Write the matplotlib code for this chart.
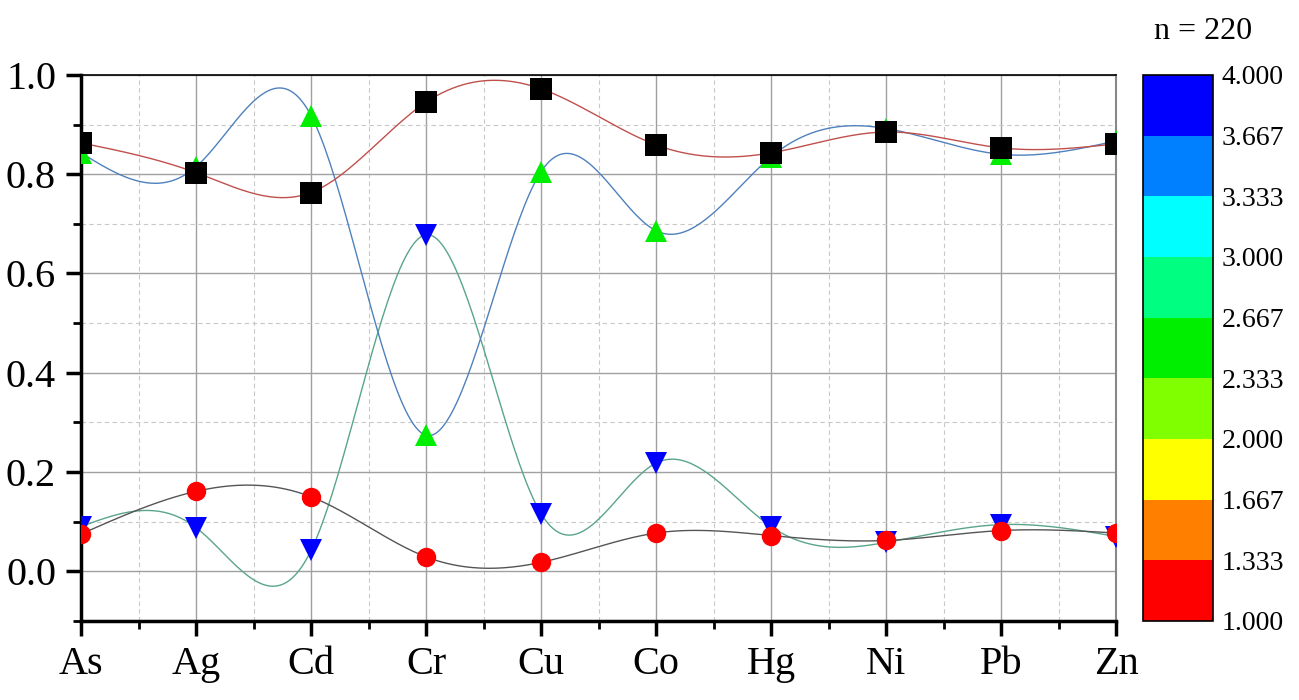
import numpy as np
import matplotlib
matplotlib.use("Agg")
import matplotlib.pyplot as plt
from matplotlib.colors import ListedColormap, BoundaryNorm
from matplotlib.ticker import MultipleLocator, FixedLocator
import matplotlib.colorbar as mcolorbar

plt.rcParams["font.family"] = ["Liberation Serif", "DejaVu Serif"]

elements = ["As", "Ag", "Cd", "Cr", "Cu", "Co", "Hg", "Ni", "Pb", "Zn"]

squares = [0.863, 0.803, 0.763, 0.945, 0.972, 0.859, 0.843, 0.885, 0.853, 0.861]
tri_up = [0.843, 0.815, 0.918, 0.274, 0.805, 0.686, 0.835, 0.892, 0.840, 0.867]
tri_down = [0.090, 0.088, 0.042, 0.678, 0.116, 0.218, 0.090, 0.058, 0.094, 0.070]
circles = [0.075, 0.161, 0.150, 0.029, 0.018, 0.077, 0.072, 0.062, 0.082, 0.077]

cbar_levels = [1.000, 1.333, 1.667, 2.000, 2.333, 2.667, 3.000, 3.333, 3.667, 4.000]
cbar_colors = ["#ff0000", "#ff8000", "#ffff00", "#80ff00", "#00ee00",
               "#00ff80", "#00ffff", "#0080ff", "#0000ff"]
cbar_title = "n = 220"


def natural_spline(x, y, n=400):
    x = np.asarray(x, float)
    y = np.asarray(y, float)
    m = len(x)
    h = np.diff(x)
    A = np.zeros((m, m))
    b = np.zeros(m)
    A[0, 0] = 1
    A[-1, -1] = 1
    for i in range(1, m - 1):
        A[i, i - 1] = h[i - 1]
        A[i, i] = 2 * (h[i - 1] + h[i])
        A[i, i + 1] = h[i]
        b[i] = 3 * ((y[i + 1] - y[i]) / h[i] - (y[i] - y[i - 1]) / h[i - 1])
    c = np.linalg.solve(A, b)
    xs = np.linspace(x[0], x[-1], n)
    ys = np.empty_like(xs)
    for k, xv in enumerate(xs):
        i = min(np.searchsorted(x, xv, side="right") - 1, m - 2)
        dx = xv - x[i]
        bi = (y[i + 1] - y[i]) / h[i] - h[i] * (2 * c[i] + c[i + 1]) / 3
        di = (c[i + 1] - c[i]) / (3 * h[i])
        ys[k] = y[i] + bi * dx + c[i] * dx ** 2 + di * dx ** 3
    return xs, ys


def main():
    fig = plt.figure(figsize=(12.99, 7.0), dpi=100)
    ax = fig.add_axes([0.0624, 0.113, 0.7968, 0.780])

    x = np.arange(len(elements))

    series = [
        (tri_down, "#5aa58a", "v", "#0000ff", 16, 3),
        (tri_up, "#4f81bd", "^", "#00ee00", 16, 4),
        (circles, "#555555", "o", "#ff0000", 14, 5),
        (squares, "#c0504d", "s", "#000000", 16, 6),
    ]
    for vals, lc, mk, mc, ms, z in series:
        xs, ys = natural_spline(x, vals)
        ax.plot(xs, ys, color=lc, lw=1.0, zorder=2)
    for vals, lc, mk, mc, ms, z in series:
        ax.plot(x, vals, linestyle="none", marker=mk, color=mc,
                markersize=ms, markeredgewidth=0, zorder=z)

    ax.set_xlim(0, len(elements) - 1)
    ax.set_ylim(-0.1, 1.0)
    ax.set_xticks(x)
    ax.set_xticklabels(elements)
    ax.xaxis.set_minor_locator(MultipleLocator(0.5))
    ax.yaxis.set_major_locator(FixedLocator([0.0, 0.2, 0.4, 0.6, 0.8, 1.0]))
    ax.yaxis.set_minor_locator(MultipleLocator(0.1))
    ax.yaxis.set_major_formatter(matplotlib.ticker.FormatStrFormatter("%.1f"))

    ax.grid(which="major", color="#a0a0a0", lw=1.0, zorder=0)
    ax.grid(which="minor", color="#c8c8c8", lw=0.8, ls=(0, (4, 3)), zorder=0)
    ax.set_axisbelow(True)

    ax.tick_params(which="major", direction="out", length=11, width=2.5,
                   labelsize=29, pad=7, top=False, right=False)
    ax.tick_params(which="minor", direction="out", length=6, width=2.0,
                   top=False, right=False)
    for s in ["left", "bottom"]:
        ax.spines[s].set_linewidth(2.5)
    ax.spines["top"].set_linewidth(1.2)
    ax.spines["right"].set_linewidth(1.5)
    ax.spines["right"].set_color("#888888")

    # colour scale on the right
    cax = fig.add_axes([0.880, 0.113, 0.054, 0.780])
    cmap = ListedColormap(cbar_colors)
    norm = BoundaryNorm(cbar_levels, cmap.N)
    cb = mcolorbar.ColorbarBase(cax, cmap=cmap, norm=norm,
                                boundaries=cbar_levels, ticks=cbar_levels,
                                spacing="uniform")
    cb.ax.set_yticklabels(["%.3f" % v for v in cbar_levels])
    cb.ax.tick_params(length=0, labelsize=20, pad=6)
    cb.outline.set_linewidth(1.2)
    fig.text(0.926, 0.955, cbar_title, fontsize=23, ha="center", va="center")

    fig.savefig("out.png", dpi=100)


if __name__ == "__main__":
    main()
